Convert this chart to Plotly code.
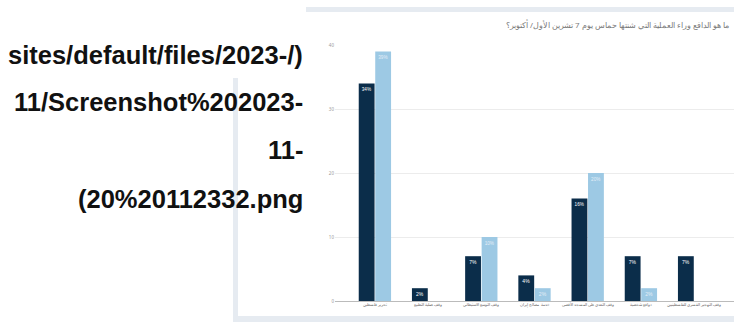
import plotly.graph_objects as go

W, H = 734, 322

categories = [
    "تحرير فلسطين",
    "وقف عملية التطبيع",
    "وقف التوسع الاستيطاني",
    "خدمة مصالح إيران",
    "وقف التعدي على المسجد الأقصى",
    "دوافع شخصية",
    "وقف التهجير القسري للفلسطينيين",
]
series_dark = [34, 2, 7, 4, 16, 7, 7]
series_light = [39, None, 10, 2, 20, 2, None]
y_ticks = [0, 10, 20, 30, 40]
title_text = "ما هو الدافع وراء العملية التي شنتها حماس يوم 7 تشرين الأول/ أكتوبر؟"
alt_lines = [
    "sites/default/files/2023-/)",
    "11/Screenshot%202023-",
    "11-",
    "(20%20112332.png",
]

def px(x):
    return x / W

def py(y):
    return 1 - y / H

def labels(vals):
    return [f"{v}%" if v is not None else "" for v in vals]

fig = go.Figure()
fig.add_trace(go.Bar(
    x=categories, y=series_dark, marker=dict(color="#0b2d4a", line=dict(width=0)),
    text=labels(series_dark), textposition="inside", insidetextanchor="end",
    textfont=dict(size=5, color="white", family="Liberation Sans"),
    textangle=0, cliponaxis=False,
))
fig.add_trace(go.Bar(
    x=categories, y=series_light, marker=dict(color="#9dc9e4", line=dict(width=0)),
    text=labels(series_light), textposition="inside", insidetextanchor="end",
    textfont=dict(size=5, color="#e4eef7", family="Liberation Sans"),
    textangle=0, cliponaxis=False,
))

shapes = [
    dict(type="rect", xref="paper", yref="paper", x0=px(306), x1=px(734), y0=py(12), y1=py(7),
         fillcolor="#e6ebf1", line=dict(width=0), layer="below"),
    dict(type="rect", xref="paper", yref="paper", x0=px(233), x1=px(238), y0=py(322), y1=py(78),
         fillcolor="#e6ebf1", line=dict(width=0), layer="below"),
    dict(type="rect", xref="paper", yref="paper", x0=px(233), x1=px(734), y0=py(322), y1=py(316),
         fillcolor="#e6ebf1", line=dict(width=0), layer="below"),
]

annotations = [
    dict(text=title_text, xref="paper", yref="paper", x=px(731), y=py(25),
         xanchor="right", yanchor="middle", showarrow=False,
         font=dict(size=7.9, color="#7a7a7a", family="Noto Sans")),
]
line_y = [55, 102, 150, 199]
for t, yy in zip(alt_lines, line_y):
    annotations.append(dict(
        text=f"<b>{t}</b>", xref="paper", yref="paper", x=px(305), y=py(yy),
        xanchor="right", yanchor="middle", showarrow=False,
        font=dict(size=25.5, color="#111111", family="Liberation Sans"),
    ))

fig.update_layout(
    width=W, height=H,
    margin=dict(l=0, r=0, t=0, b=0, autoexpand=False),
    paper_bgcolor="white", plot_bgcolor="white",
    showlegend=False,
    barmode="group", bargap=0.38, bargroupgap=0.04,
    xaxis=dict(
        domain=[px(335), px(734)], range=[-0.75, 6.75], type="category",
        showgrid=False, showline=False, zeroline=False, automargin=False,
        tickangle=0,
        tickfont=dict(size=4, color="#666666", family="Noto Sans"),
        ticks="", ticklen=0,
    ),
    yaxis=dict(
        domain=[py(301), py(45)], range=[0, 40], automargin=False,
        tickvals=y_ticks, ticktext=[str(v) for v in y_ticks],
        showgrid=True, gridcolor="#ececec", gridwidth=1,
        zeroline=True, zerolinecolor="#bbbbbb", zerolinewidth=1,
        tickfont=dict(size=4.5, color="#999999", family="Noto Sans"),
        ticks="", showline=False,
    ),
    shapes=shapes,
    annotations=annotations,
    font=dict(family="Noto Sans"),
)

fig.write_html("out.html")
